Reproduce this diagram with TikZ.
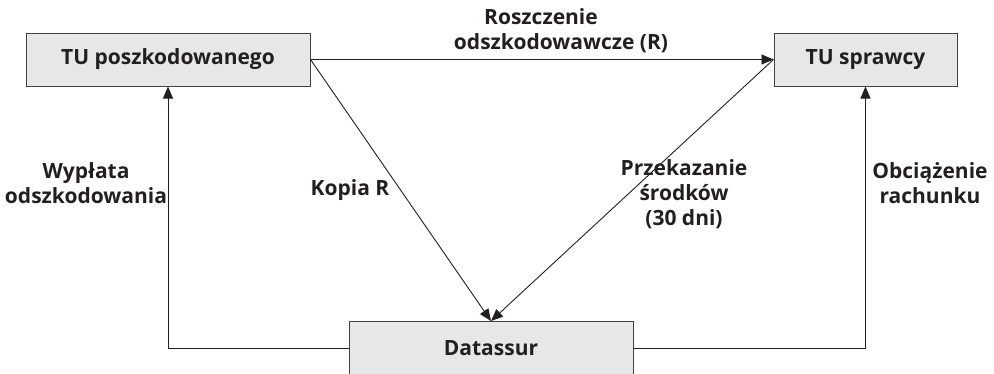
\documentclass[tikz,border=0pt]{standalone}
\usepackage{fontspec}
\setmainfont{Open Sans}
\usetikzlibrary{arrows.meta}
\definecolor{txt}{HTML}{231F20}
\definecolor{boxfill}{HTML}{E6E7E8}
\begin{document}
\begin{tikzpicture}[x=1pt,y=-1pt,
  box/.style={draw=txt!85, fill=boxfill, line width=1pt, minimum height=53pt, inner sep=0pt,
    font=\fontsize{21}{25}\selectfont\bfseries, text=txt},
  lbl/.style={font=\fontsize{21}{25}\selectfont\bfseries, text=txt, align=center, inner sep=0pt, anchor=base},
  conn/.style={draw=txt, line width=0.9pt},
  arr/.style={conn, -{Triangle[length=12pt,width=10pt]}}]
\clip (0,0) rectangle (994,373);
\node[box, minimum width=284pt] (tup) at (168,59.5) {TU poszkodowanego};
\node[box, minimum width=183pt] (tus) at (865.5,59.5) {TU sprawcy};
\node[box, minimum width=284pt] (dat) at (491,348) {Datassur};
\draw[arr] (tup.east) -- (tus.west);
\draw[arr] (tup.east) -- (dat.north);
\draw[arr] (tus.west) -- (dat.north);
\draw[arr] (dat.west) -| (tup.south);
\draw[arr] (dat.east) -| (tus.south);
\node[lbl] (lr) at (561,49) {Roszczenie\hspace*{40pt}\\odszkodowawcze (R)};
\node[lbl] (lk) at (350,195) {Kopia R};
\node[lbl] (lp) at (684,225) {Przekazanie\\środków\\(30 dni)};
\node[lbl] (lw) at (86,203) {Wypłata\\odszkodowania};
\node[lbl] (lo) at (930,203) {Obciążenie\\rachunku};
\end{tikzpicture}
\end{document}
